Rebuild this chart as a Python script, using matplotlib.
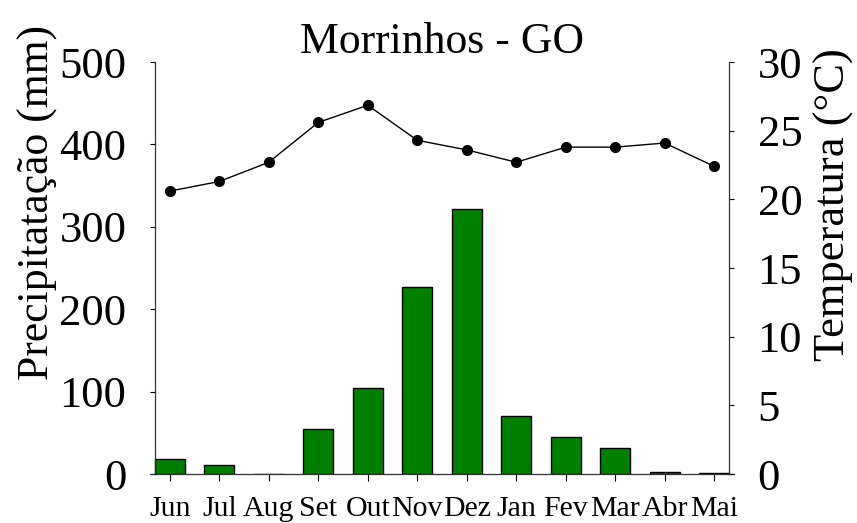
import matplotlib
matplotlib.use("Agg")
import matplotlib.pyplot as plt

plt.rcParams['font.family'] = ['Liberation Serif', 'DejaVu Serif']

# Monthly data
months = ['Jun', 'Jul', 'Aug', 'Set', 'Out', 'Nov', 'Dez', 'Jan', 'Fev', 'Mar', 'Abr', 'Mai']
precip = [18.6, 11.5, 0, 55, 104, 227, 322, 70, 45, 31, 3, 1]           # mm
temp = [20.6, 21.3, 22.7, 25.6, 26.85, 24.3, 23.6, 22.7, 23.8, 23.8, 24.1, 22.4]  # degC

x = list(range(len(months)))

fig = plt.figure(figsize=(8.57, 5.23), dpi=100)
ax = fig.add_axes([150 / 857, 49 / 523, 584 / 857, 412 / 523])
ax2 = ax.twinx()

# --- precipitation bars (left axis)
ax.bar(x, precip, width=0.6, color='#008000', edgecolor='black', linewidth=1.0, zorder=2)
ax.set_xlim(-0.4, len(months) - 0.6)
ax.set_ylim(0, 500)
ax.set_yticks([0, 100, 200, 300, 400, 500])
ax.set_xticks(x)
ax.set_xticklabels(months, fontsize=21.5)
ax.tick_params(axis='x', direction='out', length=5, width=0.8, pad=11)
ax.tick_params(axis='y', direction='out', length=3.6, width=0.8, labelsize=32, pad=17)
ax.set_ylabel('Precipitatação (mm)', fontsize=31.5)
ax.yaxis.set_label_coords(-0.158, 0.658)

# --- temperature line (right axis)
ax2.plot(x, temp, color='black', lw=1.0, marker='o', markersize=7, zorder=3)
ax2.set_ylim(0, 30)
ax2.set_yticks([0, 5, 10, 15, 20, 25, 30])
ax2.tick_params(axis='y', direction='out', length=3.6, width=0.8, labelsize=32, pad=17)
ax2.set_ylabel('Temperatura (°C)', fontsize=32)
ax2.yaxis.set_label_coords(1.137, 0.655)

# spines: bottom spans the full width, side spines sit slightly inside
for s in ['top', 'right']:
    ax.spines[s].set_visible(False)
for s in ['top', 'left', 'bottom']:
    ax2.spines[s].set_visible(False)
ax.spines['left'].set_position(('outward', -3.6))
ax2.spines['right'].set_position(('outward', -3.6))
for sp in [ax.spines['left'], ax.spines['bottom'], ax2.spines['right']]:
    sp.set_linewidth(0.9)
    sp.set_color('#333333')

ax.set_title('Morrinhos - GO', fontsize=31.5, pad=4)

fig.savefig('out.png', dpi=100)
